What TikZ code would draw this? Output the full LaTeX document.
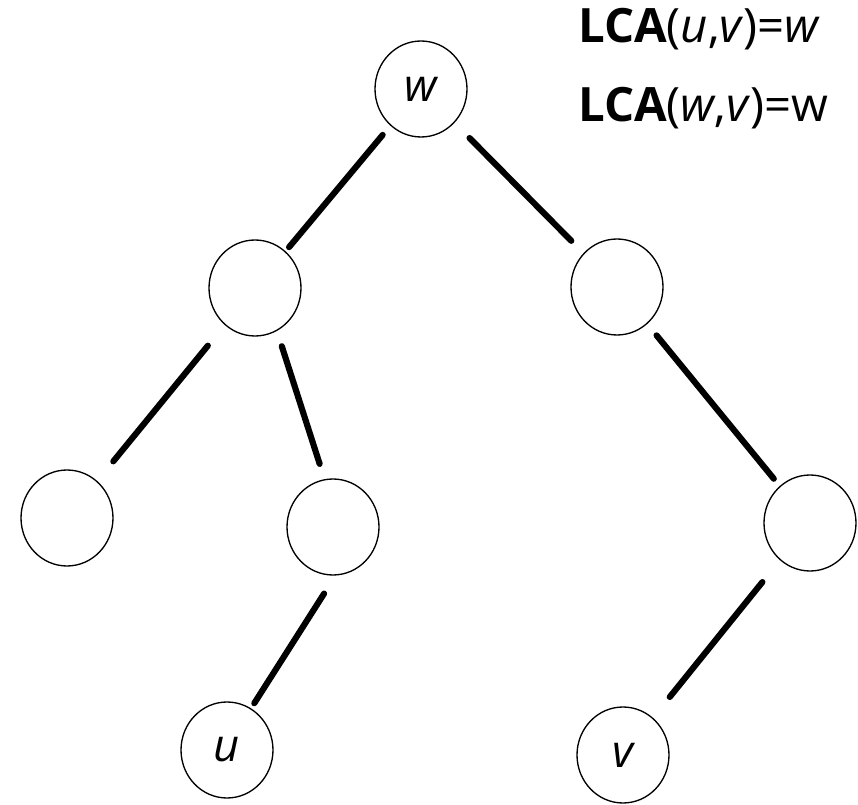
\documentclass[tikz,border=0pt]{standalone}
\usepackage{fontspec}
\setmainfont{Open Sans}
\usetikzlibrary{shapes.geometric}
\begin{document}
\begin{tikzpicture}[x=0.75pt,y=-0.75pt,
  vtx/.style={draw, ellipse, line width=1pt, inner sep=0pt,
    minimum width=69pt, minimum height=72pt,
    font=\fontsize{34}{40}\selectfont\itshape},
  edge/.style={line width=4.6pt, line cap=round},
  formula/.style={anchor=base west, inner sep=0pt, font=\fontsize{35.5}{42}\selectfont}]
\useasboundingbox (0,0) rectangle (858,805);

% tree vertices
\node[vtx] (w)  at (421,89)  {w};
\node[vtx] (a)  at (255,288) {};
\node[vtx] (b)  at (617,287) {};
\node[vtx] (c)  at (67,518)  {};
\node[vtx] (d)  at (333,527) {};
\node[vtx] (e)  at (810,523) {};
\node[vtx] (u)  at (227,750) {u};
\node[vtx] (v)  at (623,755) {v};

% tree edges, detached from the vertices
\draw[edge, shorten <=9pt,  shorten >=4pt]  (w) -- (a);
\draw[edge, shorten <=16pt, shorten >=13pt] (w) -- (b);
\draw[edge, shorten <=20pt, shorten >=19pt] (a) -- (c);
\draw[edge, shorten <=12pt, shorten >=12pt] (a.-63) -- (d.100);
\draw[edge, shorten <=11pt, shorten >=7pt]  (b) -- (e);
\draw[edge, shorten <=16pt, shorten >=4.5pt] (d.273) -- (u.60);
\draw[edge, shorten <=21pt, shorten >=20pt] (e) -- (v);

% formulas
\node[formula] (f1) at (578,43)  {\textbf{LCA}(\textit{u},\textit{v})=\textit{w}};
\node[formula] (f2) at (578,122) {\textbf{LCA}(\textit{w},\textit{v})=w};
\end{tikzpicture}
\end{document}
